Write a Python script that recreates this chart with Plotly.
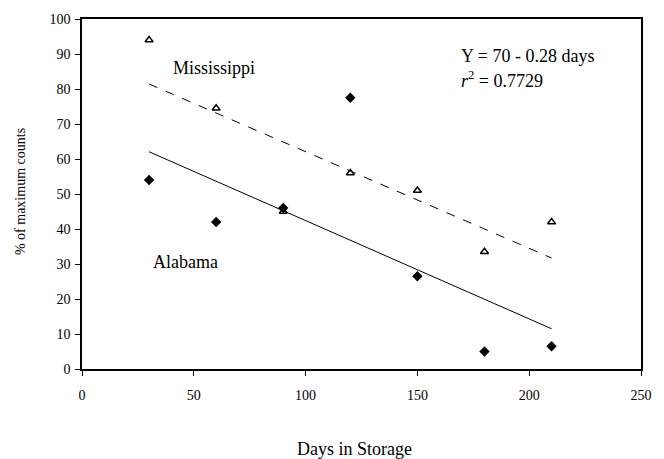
import numpy as np
import plotly.graph_objects as go

days = [30, 60, 90, 120, 150, 180, 210]
mississippi = [94, 74.5, 45, 56, 51, 33.5, 42]
alabama = [54, 42, 46, 77.5, 26.5, 5, 6.5]

x_ticks = [0, 50, 100, 150, 200, 250]
y_ticks = [0, 10, 20, 30, 40, 50, 60, 70, 80, 90, 100]

FONT = "Liberation Serif"

def fit(x, y):
    m, b = np.polyfit(x, y, 1)
    xs = [min(x), max(x)]
    return xs, [m * v + b for v in xs]

fig = go.Figure()

mx, my = fit(days, mississippi)
ax_, ay_ = fit(days, alabama)

fig.add_trace(go.Scatter(x=mx, y=my, mode="lines",
                         line=dict(color="black", width=1, dash="dash"),
                         showlegend=False, hoverinfo="skip"))
fig.add_trace(go.Scatter(x=ax_, y=ay_, mode="lines",
                         line=dict(color="black", width=1),
                         showlegend=False, hoverinfo="skip"))
fig.add_trace(go.Scatter(x=days, y=mississippi, mode="markers",
                         marker=dict(symbol="triangle-up-open", size=7, color="black",
                                     line=dict(width=1.5, color="black")),
                         name="Mississippi", showlegend=False))
fig.add_trace(go.Scatter(x=days, y=alabama, mode="markers",
                         marker=dict(symbol="diamond", size=8, color="black"),
                         name="Alabama", showlegend=False))

fig.add_annotation(x=59, y=86, text="Mississippi", showarrow=False,
                   font=dict(family=FONT, size=18, color="black"))
fig.add_annotation(x=46.5, y=30.6, text="Alabama", showarrow=False,
                   font=dict(family=FONT, size=18, color="black"))
fig.add_annotation(x=168.5, y=89.5, text="Y = 70 - 0.28 days", showarrow=False,
                   xanchor="left", font=dict(family=FONT, size=18, color="black"))
fig.add_annotation(x=168.5, y=82.7, text="<i>r</i><sup>2</sup> = 0.7729", showarrow=False,
                   xanchor="left", font=dict(family=FONT, size=18, color="black"))

fig.add_annotation(xref="paper", yref="paper", x=-0.11, y=0.507,
                   text="% of maximum counts", textangle=-90, showarrow=False,
                   xanchor="center", yanchor="middle",
                   font=dict(family=FONT, size=14, color="black"))
fig.add_annotation(xref="paper", yref="paper", x=0.4875, y=-0.229,
                   text="Days in Storage", showarrow=False,
                   xanchor="center", yanchor="middle",
                   font=dict(family=FONT, size=18, color="black"))

fig.update_xaxes(range=[0, 250], tickvals=x_ticks, ticktext=[str(v) for v in x_ticks],
                 showgrid=False, zeroline=False, showline=True, linecolor="black",
                 linewidth=1.5, mirror=True, ticks="outside", ticklen=5,
                 tickcolor="black", ticklabelstandoff=7,
                 tickfont=dict(family=FONT, size=14, color="black"))
fig.update_yaxes(range=[0, 100], tickvals=y_ticks, ticktext=[str(v) for v in y_ticks],
                 showgrid=False, zeroline=False, showline=True, linecolor="black",
                 linewidth=1.5, mirror=True, ticks="outside", ticklen=5,
                 tickcolor="black", ticklabelstandoff=2,
                 tickfont=dict(family=FONT, size=14, color="black"))

fig.update_layout(width=664, height=459, margin=dict(l=82, r=20, t=16, b=90),
                  plot_bgcolor="white", paper_bgcolor="white", showlegend=False)

fig.write_html("out.html", config={"displayModeBar": False},
               post_script="document.body.style.margin='0px';")
